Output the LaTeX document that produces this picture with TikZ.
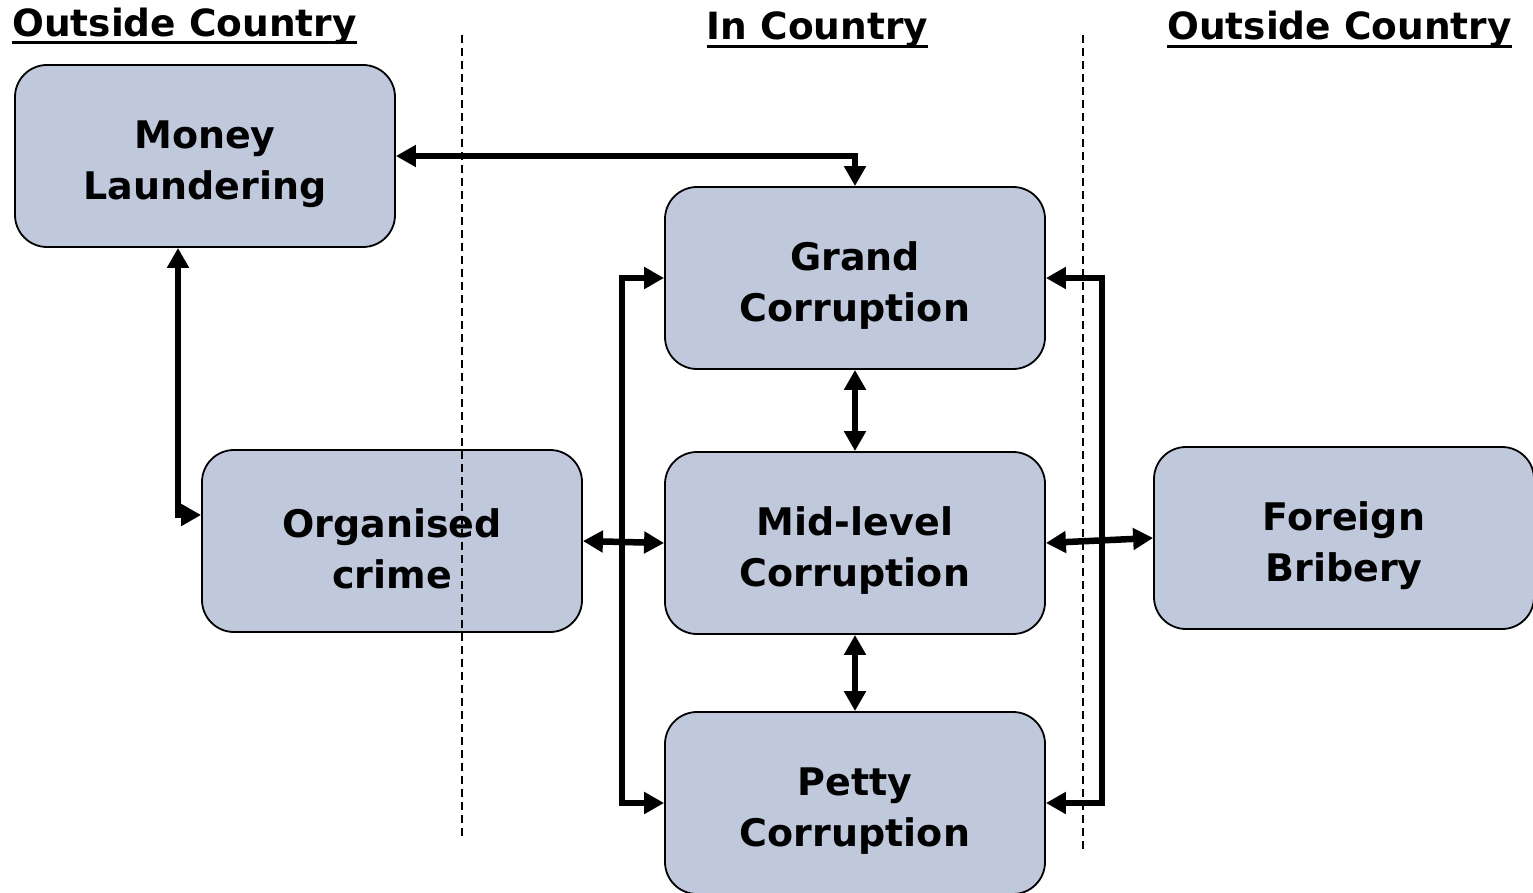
\documentclass[tikz,border=0pt]{standalone}
\usepackage{fontspec}
\setmainfont{DejaVu Sans}
\usetikzlibrary{arrows.meta}

\definecolor{boxfill}{RGB}{192,201,220}

\tikzset{
  stagebox/.style={draw=black, line width=1.8pt, fill=boxfill,
    rounded corners=32pt, minimum width=380pt, minimum height=182pt,
    inner sep=0pt},
  stagetext/.style={align=center, inner sep=0pt,
    font=\bfseries\fontsize{38}{51}\selectfont},
  header/.style={inner sep=0pt, font=\bfseries\fontsize{37.5}{45}\selectfont},
  hrule/.style={line width=3pt},
  border/.style={line width=1.3pt, dash pattern=on 8pt off 5pt},
  link/.style={line width=6.5pt, {Triangle[length=20pt,width=21pt]}-{Triangle[length=20pt,width=21pt]}},
}

\begin{document}
\begin{tikzpicture}[x=1pt, y=-1pt]
  \useasboundingbox (0,0) rectangle (1533,893);

  % column headings
  \node[header, anchor=base west] (hleft) at (12,37) {Outside Country};
  \node[header, anchor=base] (hmid) at (817.5,40) {In Country};
  \node[header, anchor=base west] (hright) at (1167,40) {Outside Country};
  \draw[hrule] ([yshift=-6pt]hleft.base west) -- ([yshift=-6pt]hleft.base east);
  \draw[hrule] ([yshift=-7pt]hmid.base west) -- ([yshift=-7pt]hmid.base east);
  \draw[hrule] ([yshift=-7pt]hright.base west) -- ([yshift=-7pt]hright.base east);

  % boxes
  \node[stagebox] (ml) at (205,156) {};
  \node[stagebox] (oc) at (392,541) {};
  \node[stagebox] (gc) at (855,278) {};
  \node[stagebox] (mc) at (855,543) {};
  \node[stagebox] (pc) at (855,803) {};
  \node[stagebox] (fb) at (1344,538) {};

  % box labels
  \node[stagetext] (ml-t) at ([yshift=-8pt]ml.center) {Money\\Laundering};
  \node[stagetext] (oc-t) at ([yshift=-8pt]oc.center) {Organised\\crime};
  \node[stagetext] (gc-t) at ([yshift=-8pt]gc.center) {Grand\\Corruption};
  \node[stagetext] (mc-t) at ([yshift=-8pt]mc.center) {Mid-level\\Corruption};
  \node[stagetext] (pc-t) at ([yshift=-8pt]pc.center) {Petty\\Corruption};
  \node[stagetext] (fb-t) at ([yshift=-8pt]fb.center) {Foreign\\Bribery};

  % country borders
  \draw[border] (462,35) -- (462,840);
  \draw[border] (1083,35) -- (1083,852);

  % links
  \draw[link] (ml.east) -| (gc.north);
  \draw[link] ([xshift=-27pt]ml.south) |- ([yshift=26pt]oc.west);
  \draw[link] (gc.south) -- (mc.north);
  \draw[link] (mc.south) -- (pc.north);
  \draw[link] (gc.west) -- ++(-42,0) |- (pc.west);
  \draw[link] (gc.east) -- ++(56,0) |- (pc.east);
  \draw[link] (oc.east) -- (mc.west);
  \draw[link] (mc.east) -- (fb.west);
\end{tikzpicture}
\end{document}
